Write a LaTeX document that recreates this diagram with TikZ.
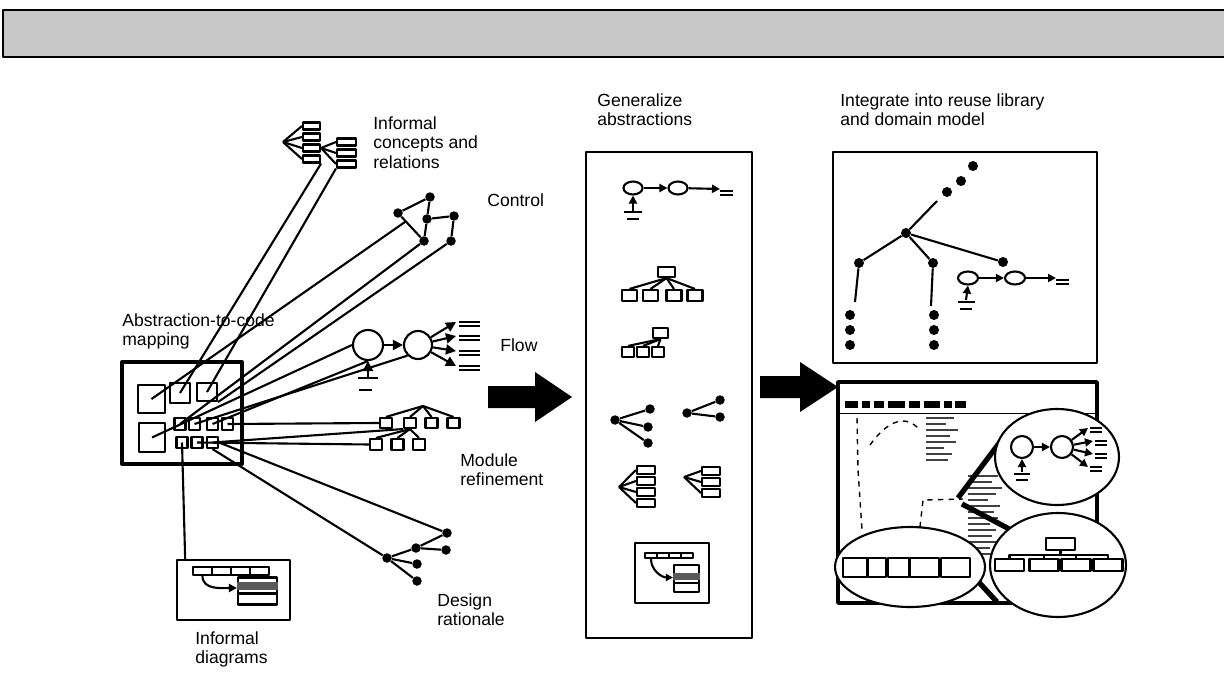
\documentclass[tikz,border=0pt]{standalone}
\usepackage{fontspec}
\setmainfont{Liberation Sans}
\usetikzlibrary{positioning,arrows.meta,calc,shapes.geometric}

\tikzset{
  lbl/.style={anchor=north west, inner sep=0pt, align=left,
    font=\fontsize{10}{11.3}\selectfont},
  sq/.style 2 args={draw, line width=1.2pt, inner sep=0pt,
    minimum width=#1, minimum height=#2},
  bead/.style={circle, fill, inner sep=0pt, minimum size=#1},
  bead/.default=1.9mm,
  blob/.style={circle, draw, line width=1.2pt, inner sep=0pt, minimum size=#1},
  oval/.style 2 args={ellipse, draw, line width=1.2pt, inner sep=0pt,
    minimum width=#1, minimum height=#2},
  ln/.style={line width=1.2pt},
  tri/.style={line width=1.2pt, -{Triangle[length=#1,width=#1]}},
  tri/.default=2mm,
  scrib/.style={line width=1.3pt, black!75},
}

\begin{document}
\begin{tikzpicture}[x=0.02cm, y=-0.02cm, line join=round]
\useasboundingbox (0,0) rectangle (1224,679);

% banner
\fill[black!22] (3,10) rectangle (1224,57);
\draw[line width=1.2pt] (1224,10) -- (3,10) -- (3,57) -- (1224,57);

% abstraction-to-code mapping
\node[sq={24mm}{20.4mm}, line width=2.3pt] (map) at (182,413) {};
\node[lbl] (maplbl) at (122,313) {Abstraction-to-code\\mapping};
\node[sq={5.4mm}{5.6mm}] (s1) at (151.5,399) {};
\node[sq={4mm}{4mm}] (s2) at (180,393) {};
\node[sq={4mm}{3.6mm}] (s3) at (207,392) {};
\node[sq={5.2mm}{5.8mm}] (s4) at (152,437.5) {};
\foreach \x [count=\i] in {180,194.5,212.5,227.5}
  \node[sq={2.2mm}{2.4mm}] (r\i) at (\x,424) {};
\foreach \x [count=\i] in {182,197,212.5}
  \node[sq={2.2mm}{2.2mm}] (q\i) at (\x,442.5) {};

% informal concepts and relations
\coordinate (ca0) at (283,142);
\foreach \y [count=\i] in {126,137,148,159}
  \node[sq={3.4mm}{1.4mm}] (ca\i) at (311.5,\y) {};
\foreach \y [count=\i] in {142,153,164}
  \node[sq={3.8mm}{1.4mm}] (cb\i) at (346.5,\y) {};
\foreach \i in {1,...,4} \draw[ln] (ca0) -- (ca\i.west);
\foreach \i in {1,...,3} \draw[ln] (ca3.east) -- (cb\i.west);
\node[lbl] (calbl) at (373,116) {Informal\\concepts and\\relations};

% control
\node[bead] (ct1) at (430,197) {};
\node[bead] (ct2) at (398,213) {};
\node[bead] (ct3) at (427,219) {};
\node[bead] (ct4) at (454,216) {};
\node[bead] (ct5) at (424,241) {};
\node[bead] (ct6) at (451,241) {};
\draw[ln] (ct2) -- (ct1) -- (ct3) -- (ct4) -- (ct6);
\draw[ln] (ct3) -- (ct5) -- (ct2);
\coordinate (ctx) at ($(ct2)!0.3!(ct5)$);
\node[lbl] (ctlbl) at (487,193) {Control};

% flow
\node[blob=6mm] (fl1) at (368,345) {};
\node[blob=5.6mm] (fl2) at (418,345) {};
\draw[tri] (fl1) -- (fl2);
\coordinate (fg) at (368,378);
\draw[tri] (fg) -- (fl1.south);
\draw[ln] ($(fg)+(-10,0)$) -- ($(fg)+(10,0)$);
\draw[ln] ($(fg)+(-9,12)$) -- ($(fg)+(4,12)$);
\foreach \y [count=\i] in {322,336,351,366} {
  \coordinate (fo\i) at (456,\y);
  \draw[tri] (fl2) -- (fo\i);
  \draw[ln] ($(fo\i)+(3,0)$) -- ++(21,0);
  \draw[ln] ($(fo\i)+(3,4)$) -- ++(21,0);
}
\node[lbl] (fllbl) at (500,338) {Flow};

% module refinement
\coordinate (mr0) at (423,406);
\foreach \x [count=\i] in {386,410,431.5,453.5}
  \node[sq={2.4mm}{2mm}] (m\i) at (\x,423) {};
\foreach \x [count=\i] in {376,397.5,419}
  \node[sq={2.4mm}{2.2mm}] (n\i) at (\x,444.5) {};
\foreach \i in {1,...,4} \draw[ln] (mr0) -- (m\i.north);
\foreach \i in {1,...,3} \draw[ln] (m2.south) -- (n\i.north);
\node[lbl] (mrlbl) at (460,453) {Module\\refinement};

% design rationale
\node[bead] (dr1) at (447,533) {};
\node[bead] (dr2) at (446,550) {};
\node[bead] (dr3) at (416,548) {};
\node[bead] (dr4) at (387,558) {};
\node[bead] (dr5) at (417,564) {};
\node[bead] (dr6) at (417,581) {};
\draw[ln] (dr4) -- (dr3) -- (dr1) (dr3) -- (dr2) (dr4) -- (dr5) (dr4) -- (dr6);
\node[lbl] (drlbl) at (437,593) {Design\\rationale};

% informal diagrams
\node[sq={22.6mm}{12mm}] (dgf) at (233.5,590) {};
\foreach \x [count=\i] in {202.5,221.5,240.5,259.5}
  \node[sq={3.8mm}{1.6mm}] (dgc\i) at (\x,571) {};
\node[sq={7.8mm}{5.4mm}] (dgb) at (257.5,591) {};
\fill[black!65] ($(dgb.north west)+(0,6)$) rectangle ($(dgb.north east)+(0,14)$);
\draw[ln] ($(dgb.north west)+(0,17)$) -- ($(dgb.north east)+(0,17)$);
\draw[tri=1.6mm] (dgc1.south) to[out=-90, in=180] ($(dgb.west)+(0,-3)$);
\node[lbl] (dglbl) at (195,631) {Informal\\diagrams};

% lines out of the mapping box
\draw[ln] (s2.center) -- (ca4.south east);
\draw[ln] (s3.center) -- (cb3.south west);
\draw[ln] (s1.center) -- (ctx);
\draw[ln] (r1.center) -- (ct5);
\draw[ln] (s3.south east) -- (ct6);
\draw[ln] (s4.center) -- (fl1.west);
\draw[ln] (r2.center) -- (fl2.south west);
\draw[ln] (r3.center) -- (fl1.south);
\draw[ln] (r4.center) -- (m1.west);
\draw[ln] (q3.center) -- (m2.south west);
\draw[ln] (q2.center) -- (n1.west);
\draw[ln] (q3.east) -- (dr1);
\draw[ln] (q3.south) -- (dr4);
\draw[ln] (q1.center) -- ($(dgf.north west)!0.08!(dgf.north east)$);

% big arrows
\fill (488,386) -- (535,386) -- (535,372) -- (572,397) -- (535,422) -- (535,408) -- (488,408) -- cycle;
\fill (760,376) -- (800,376) -- (800,362) -- (838,387) -- (800,412) -- (800,398) -- (760,398) -- cycle;

% generalize abstractions
\node[sq={33.2mm}{97.2mm}] (gen) at (669,395) {};
\node[lbl] (genlbl) at (597,93) {Generalize\\abstractions};
\node[oval={3.8mm}{2.6mm}] (ge1) at (633,188) {};
\node[oval={3.8mm}{2.6mm}] (ge2) at (678,188) {};
\draw[tri=1.6mm] (ge1) -- (ge2);
\coordinate (gs) at (720,189);
\draw[tri=1.6mm] (ge2) -- (gs);
\draw[ln] ($(gs)+(0,2)$) -- ++(13,0) ($(gs)+(0,6)$) -- ++(13,0);
\coordinate (gg) at (633,211);
\draw[tri=1.6mm] (gg) -- (ge1.south);
\draw[ln] (624,212) -- (642,212) (627,219) -- (639,219);
\node[sq={3.4mm}{2mm}] (tb0) at (666.5,272) {};
\foreach \x [count=\i] in {629.5,650.5,674,695}
  \node[sq={3mm}{2.2mm}] (tb\i) at (\x,295.5) {};
\foreach \i in {1,...,4} \draw[ln] (tb0.south) -- (tb\i.north);
\node[sq={3mm}{2mm}] (tc0) at (660.5,333) {};
\foreach \x [count=\i] in {628,643,658}
  \node[sq={2.4mm}{2mm}] (tc\i) at (\x,352) {};
\foreach \i in {1,...,3} \draw[ln] (tc0.south) -- (tc\i.north);
\node[bead] (dt0) at (615,420) {};
\node[bead] (dt1) at (650,409) {};
\node[bead] (dt2) at (648,427) {};
\node[bead] (dt3) at (648,443) {};
\draw[ln] (dt1) -- (dt0) -- (dt2) (dt0) -- (dt3);
\node[bead] (du0) at (687,413) {};
\node[bead] (du1) at (720,400) {};
\node[bead] (du2) at (720,417) {};
\draw[ln] (du1) -- (du0) -- (du2);
\coordinate (fa0) at (619,487);
\foreach \y [count=\i] in {470,481,492,503}
  \node[sq={3.6mm}{1.6mm}] (fa\i) at (646,\y) {};
\foreach \i in {1,...,4} \draw[ln] (fa0) -- (fa\i.west);
\coordinate (fb0) at (684,477);
\foreach \y [count=\i] in {471,482,493}
  \node[sq={3.6mm}{1.6mm}] (fb\i) at (711,\y) {};
\foreach \i in {1,...,3} \draw[ln] (fb0) -- (fb\i.west);
\node[sq={14.8mm}{12mm}] (gdf) at (672,573) {};
\foreach \x [count=\i] in {651,663,675,687}
  \node[sq={2.4mm}{1mm}] (gdc\i) at (\x,555.5) {};
\node[sq={5mm}{5.4mm}] (gdb) at (686.5,578.5) {};
\fill[black!65] ($(gdb.north west)+(0,9)$) rectangle ($(gdb.north east)+(0,16)$);
\draw[ln] ($(gdb.north west)+(0,19)$) -- ($(gdb.north east)+(0,19)$);
\draw[tri=1.4mm] (gdc1.south) to[out=-90, in=180] ($(gdb.west)+(0,-1)$);

% reuse library and domain model
\node[sq={52.8mm}{42.2mm}] (lib) at (965,257.5) {};
\node[lbl] (liblbl) at (840,93) {Integrate into reuse library\\and domain model};
\node[bead=2mm] (hub) at (906,233) {};
\node[bead=2mm] (h1) at (859,263) {};
\node[bead=2mm] (h2) at (933,263) {};
\node[bead=2mm] (h3) at (1003,262) {};
\node[bead=2mm] (t1) at (947,192) {};
\node[bead=2mm] (t2) at (961,181) {};
\node[bead=2mm] (t3) at (973,166) {};
\coordinate (tup) at (937,201);
\coordinate (h1d) at (855,302);
\coordinate (h2d) at (931,306);
\draw[ln] (tup) -- (hub) -- (h1) -- (h1d) (hub) -- (h2) -- (h2d) (hub) -- (h3);
\foreach \y [count=\i] in {315,330,345} {
  \node[bead=2mm] (l\i) at (850,\y) {};
  \node[bead=2mm] (k\i) at (934,\y) {};
}
\node[oval={4mm}{2.6mm}] (re1) at (968,278) {};
\node[oval={4mm}{2.6mm}] (re2) at (1015,278) {};
\draw[tri=1.6mm] (re1) -- (re2);
\coordinate (rs) at (1056,278);
\draw[tri=1.6mm] (re2) -- (rs);
\draw[ln] ($(rs)+(0,2)$) -- ++(13,0) ($(rs)+(0,6)$) -- ++(13,0);
\coordinate (rg) at (966,300);
\draw[tri=1.6mm] (rg) -- (re1.south);
\draw[ln] (958,302) -- (975,302) (960,309) -- (972,309);

% screen
\node[sq={51.8mm}{44.2mm}, line width=2.2pt] (scr) at (967.5,492.5) {};
\foreach \a/\b in {845/858,862/870,874/884,888/905,909/920,924/940,944/952,955/966}
  \fill (\a,401) rectangle (\b,408);
\draw[line width=.5pt] (840,413) -- (1095,413);
\draw[dashed, line width=.8pt] (857,418) -- (858,470) -- (862,530);
\draw[dashed, line width=.8pt] (920,527) -- (923,500) -- (963,499);
\draw[dashed, line width=.8pt] (870,445) .. controls (888,420) and (905,415) .. (918,428);
\foreach \y/\l in {418/28,424/20,430/32,436/24,442/30,448/18,454/26,460/22}
  \draw[scrib] (926,\y) -- ++(\l,0);
\foreach \y/\l in {476/30,482/24,488/34,494/28,500/20,506/32,512/26,518/30,524/22,530/28,536/24,542/30,548/22,554/26}
  \draw[scrib] (968,\y) -- ++(\l,0);
\draw[line width=3pt] (958,498) -- (1000,442);
\draw[line width=3pt] (962,504) -- (1030,540);
\draw[line width=3pt] (975,578) -- (997,602);
\node[oval={24.8mm}{19.2mm}, fill=white] (ov3) at (1057,457) {};
\node[oval={30mm}{16mm}, fill=white] (ov1) at (910,567) {};
\node[oval={27.2mm}{20.8mm}, fill=white] (ov2) at (1058,565) {};
\foreach \x/\w [count=\i] in {855/4.8mm,877/3.6mm,898.5/4.2mm,924.5/5.8mm,955.5/5.8mm}
  \node[sq={\w}{3.8mm}] (oc\i) at (\x,567.5) {};
\node[sq={5.8mm}{2.4mm}] (otop) at (1060.5,544) {};
\foreach \x [count=\i] in {1009.5,1044,1076,1108}
  \node[sq={5.8mm}{2.4mm}] (ob\i) at (\x,565) {};
\foreach \i in {1,...,4} \draw[ln] (otop.south) -- ++(0,4) -| (ob\i.north);
\node[blob=4.4mm] (os1) at (1022,447) {};
\node[blob=4.4mm] (os2) at (1062,447) {};
\draw[tri=1.6mm] (os1) -- (os2);
\coordinate (osg) at (1022,472);
\draw[tri=1.6mm] (osg) -- (os1.south);
\draw[ln] (1014,474) -- (1030,474) (1016,480) -- (1028,480);
\foreach \x/\y [count=\i] in {1088/428,1093/441,1093/454,1088/467} {
  \coordinate (so\i) at (\x,\y);
  \draw[tri=1.6mm] (os2) -- (so\i);
  \draw[ln] ($(so\i)+(2,0)$) -- ++(12,0) ($(so\i)+(2,4)$) -- ++(12,0);
}
\end{tikzpicture}
\end{document}
